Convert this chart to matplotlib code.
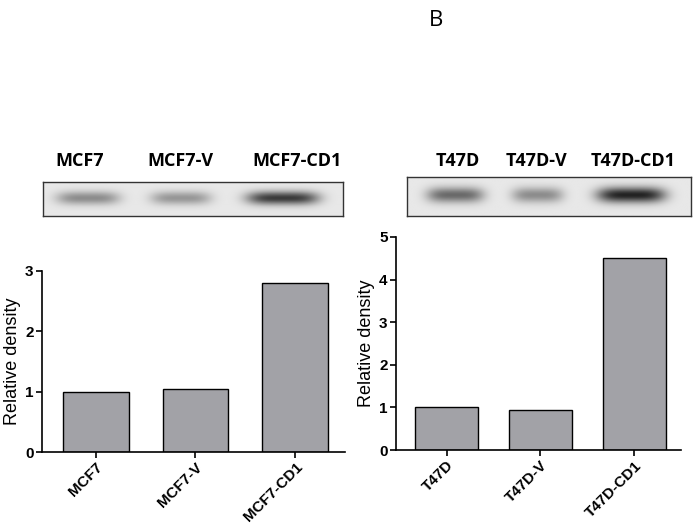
import numpy as np
import matplotlib
matplotlib.use("Agg")
import matplotlib.pyplot as plt

# bar chart values (relative density)
mcf7Labels = ["MCF7", "MCF7-V", "MCF7-CD1"]
mcf7Values = [1.0, 1.05, 2.8]
t47dLabels = ["T47D", "T47D-V", "T47D-CD1"]
t47dValues = [1.0, 0.94, 4.5]

# western blot band darkness (0 = none, 1 = black)
mcf7Bands = [0.45, 0.40, 0.85]
t47dBands = [0.62, 0.45, 0.97]

barColor = "#a2a2a7"


def makeBlot(bands, centers, widths, yCenter, h=60, w=600):
    # build a grey blot picture with soft elliptical bands
    xx, yy = np.meshgrid(np.linspace(0, 1, w), np.linspace(0, 1, h))
    img = np.full((h, w), 0.91)
    for dark, cx, bw in zip(bands, centers, widths):
        blob = np.exp(-((xx - cx) / (bw / 2.0)) ** 4 - ((yy - yCenter) / 0.2) ** 2)
        img = img - dark * 0.8 * blob
    return np.clip(img, 0, 1)


def drawBlot(fig, rect, labels, bands, centers, widths, yCenter, labelX, labelY):
    ax = fig.add_axes(rect)
    ax.imshow(makeBlot(bands, centers, widths, yCenter), cmap="gray", vmin=0, vmax=1,
              aspect="auto", extent=(0, 1, 0, 1), interpolation="bilinear")
    ax.set_xticks([])
    ax.set_yticks([])
    for s in ax.spines.values():
        s.set_linewidth(1.0)
        s.set_color("#333333")
    for lab, lx in zip(labels, labelX):
        fig.text(lx / 700, 1 - labelY / 525, lab, ha="center", va="center",
                 fontsize=13, fontweight="bold", family="Open Sans")


def drawBars(fig, rect, labels, values, ymax, width):
    ax = fig.add_axes(rect)
    x = np.arange(len(values))
    ax.bar(x, values, width=width, color=barColor, edgecolor="black", linewidth=1.0)
    ax.set_ylim(0, ymax)
    ax.set_yticks(range(ymax + 1))
    ax.set_xlim(-0.54, 2.5)
    ax.set_xticks(x)
    ax.set_xticklabels(labels, rotation=45, ha="right", rotation_mode="anchor",
                       fontsize=11, fontweight="bold", family="Liberation Sans")
    for t in ax.get_yticklabels():
        t.set_fontweight("bold")
        t.set_fontsize(11)
        t.set_family("Liberation Sans")
    ax.spines["top"].set_visible(False)
    ax.spines["right"].set_visible(False)
    ax.spines["left"].set_linewidth(1.2)
    ax.spines["bottom"].set_linewidth(1.2)
    ax.tick_params(direction="out", length=4, width=1.2, pad=2)
    ax.set_ylabel("Relative density", fontsize=13, family="Liberation Sans", labelpad=3)
    return ax


fig = plt.figure(figsize=(7, 5.25), dpi=100)

fig.text(436 / 700, 1 - 20 / 525, "B", ha="center", va="center", fontsize=16, family="Open Sans")

drawBlot(fig, [43 / 700, 1 - 216 / 525, 300 / 700, 34 / 525], mcf7Labels, mcf7Bands,
         [0.15, 0.46, 0.80], [0.21, 0.2, 0.24], 0.47, [80, 180, 297], 161)
drawBlot(fig, [407 / 700, 1 - 216 / 525, 284 / 700, 39 / 525], t47dLabels, t47dBands,
         [0.17, 0.46, 0.79], [0.2, 0.18, 0.24], 0.46, [458, 537, 633], 161)

drawBars(fig, [42 / 700, 73 / 525, 303 / 700, 181 / 525], mcf7Labels, mcf7Values, 3, 0.66)
drawBars(fig, [396 / 700, 75 / 525, 285 / 700, 213 / 525], t47dLabels, t47dValues, 5, 0.67)

fig.savefig("out.png", dpi=100)
